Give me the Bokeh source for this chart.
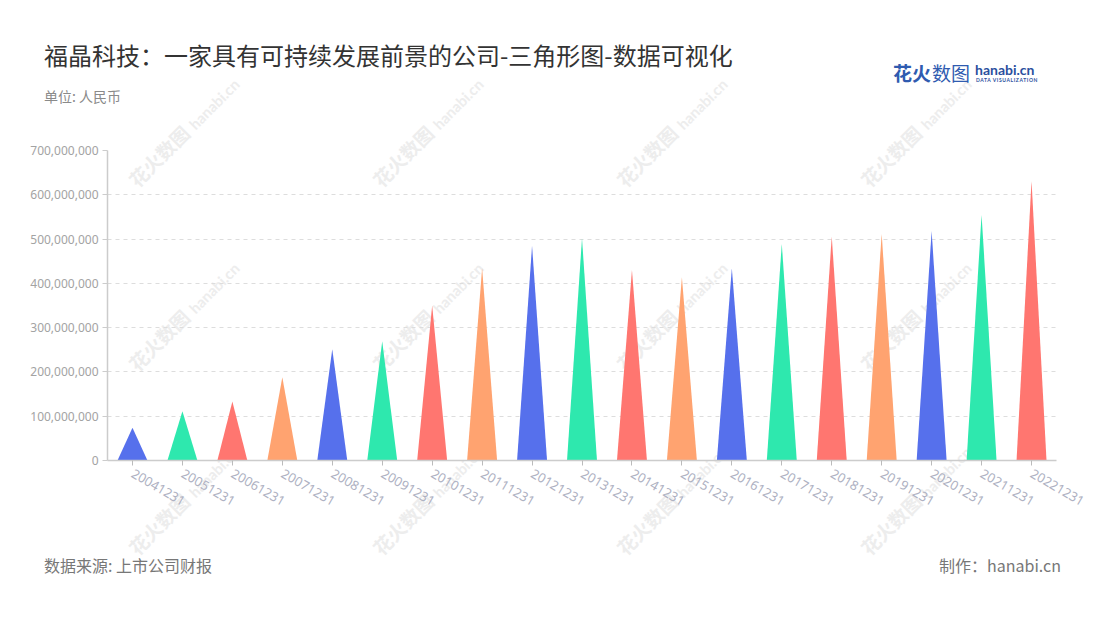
import math
from bokeh.plotting import figure
from bokeh.layouts import column
from bokeh.models import Range1d, FixedTicker, NumeralTickFormatter, ColumnDataSource, Div
from bokeh.embed import file_html
from bokeh.resources import INLINE

# ---- data ----
categories = ["20041231", "20051231", "20061231", "20071231", "20081231", "20091231",
              "20101231", "20111231", "20121231", "20131231", "20141231", "20151231",
              "20161231", "20171231", "20181231", "20191231", "20201231", "20211231",
              "20221231"]
revenue = [74e6, 111e6, 133e6, 188e6, 251e6, 269e6, 350e6, 434e6, 485e6, 502e6,
           430e6, 414e6, 434e6, 489e6, 506e6, 512e6, 518e6, 555e6, 631e6]
palette = ["#5670EC", "#2EE8AE", "#FF7670", "#FFA370"]
y_ticks = [0, 100e6, 200e6, 300e6, 400e6, 500e6, 600e6, 700e6]

title_text = "福晶科技：一家具有可持续发展前景的公司-三角形图-数据可视化"
subtitle_text = "单位: 人民币"
source_text = "数据来源: 上市公司财报"
maker_text = "制作：hanabi.cn"

CJK = "Noto Sans CJK SC"
W, H = 1096, 604
HEAD_H = 140
MAIN_H = H - HEAD_H
WM_X = [132, 376, 620, 864]
WM_Y = [183, 367, 551]
WM_COLOR = "#ededed"


def span(txt, x, y, size, color, align="left", weight="normal", font=CJK, extra=""):
    tx = "-100%" if align == "right" else "0"
    return (f'<span style="position:absolute;left:{x}px;top:{y}px;'
            f'transform:translate({tx},-50%);white-space:nowrap;line-height:1.2;'
            f"font-family:'{font}';font-size:{size};color:{color};font-weight:{weight};{extra}\">"
            f'{txt}</span>')


def wm_spans():
    out = []
    for x0 in WM_X:
        for y0 in WM_Y:
            out.append(f'<span style="position:absolute;left:{x0}px;top:{y0 - 12}px;height:24px;'
                       f'line-height:24px;white-space:nowrap;transform:rotate(-45deg);'
                       f'transform-origin:0 50%;color:{WM_COLOR};font-weight:bold;">'
                       f"<span style=\"font-family:'{CJK}';font-size:19px\">花火数图</span>"
                       f"<span style=\"font-family:'Lato';font-size:15px;margin-left:6px\">hanabi.cn</span>"
                       f'</span>')
    return "".join(out)


# background layer: all page texts and watermarks (overflows below, behind the chart)
bg_html = (f'<div style="position:relative;width:{W}px;height:{HEAD_H}px;overflow:visible;">'
           + wm_spans()
           + span(title_text, 44, 55, "24px", "#333333")
           + span(subtitle_text, 44, 96, "14px", "#8a8a8a")
           + span("花火", 893, 73, "19px", "#2f5bb0", weight="bold")
           + span("数图", 932, 73, "19px", "#2f5bb0")
           + span("hanabi.cn", 975, 70, "14px", "#2a4f9e", weight="bold", font="Lato")
           + span("DATA VISUALIZATION", 976, 80, "5px", "#2a4f9e", weight="bold", font="Lato",
                  extra="letter-spacing:0.6px;")
           + span(source_text, 44, 566, "16px", "#777777")
           + span(maker_text, 1061, 566, "16px", "#777777", align="right")
           + '</div>')
head = Div(text=bg_html, width=W, height=HEAD_H, margin=0, styles={"overflow": "visible"})

# ---- main chart ----
FL, FT, FR, FB = 107, 150, 1056, 460
p = figure(width=W, height=MAIN_H, output_backend="svg", toolbar_location=None,
           x_range=Range1d(-0.5, len(categories) - 0.5), y_range=Range1d(0, 700e6),
           min_border_left=FL, min_border_right=W - FR,
           min_border_top=FT - HEAD_H, min_border_bottom=H - FB, margin=0)
p.outline_line_color = None
p.background_fill_color = None
p.border_fill_color = None

half = 0.3
xs = [[i - half, i, i + half] for i in range(len(categories))]
ys = [[0, v, 0] for v in revenue]
colors = [palette[i % 4] for i in range(len(categories))]
src = ColumnDataSource(dict(xs=xs, ys=ys, color=colors))
p.patches("xs", "ys", source=src, fill_color="color", line_color=None, fill_alpha=1)

p.xaxis.ticker = FixedTicker(ticks=list(range(len(categories))))
p.xaxis.major_label_overrides = {i: c for i, c in enumerate(categories)}
p.xaxis.major_label_orientation = -math.pi / 6
p.xaxis.major_label_text_font = "Noto Sans"
p.xaxis.major_label_text_font_size = "13px"
p.xaxis.major_label_text_color = "#aeb1c2"
p.xaxis.axis_line_color = "#cccccc"
p.xaxis.axis_line_width = 1.5
p.xaxis.major_tick_line_color = "#bbbbbb"
p.xaxis.major_tick_out = 5
p.xaxis.major_tick_in = 0
p.xaxis.minor_tick_line_color = None
p.xaxis.major_label_standoff = 7

p.yaxis.ticker = FixedTicker(ticks=y_ticks)
p.yaxis.formatter = NumeralTickFormatter(format="0,0")
p.yaxis.major_label_text_font = "Noto Sans"
p.yaxis.major_label_text_font_size = "12px"
p.yaxis.major_label_text_color = "#a3a3a3"
p.yaxis.axis_line_color = "#cccccc"
p.yaxis.axis_line_width = 1.5
p.yaxis.major_tick_line_color = "#cccccc"
p.yaxis.major_tick_out = 5
p.yaxis.major_tick_in = 0
p.yaxis.minor_tick_line_color = None
p.yaxis.major_label_standoff = 4

p.xgrid.grid_line_color = None
p.ygrid.grid_line_color = "#dddddd"
p.ygrid.grid_line_dash = "4 4"
p.ygrid.grid_line_width = 1

layout = column(head, p, spacing=0)
open("out.html", "w").write(file_html(layout, INLINE))
